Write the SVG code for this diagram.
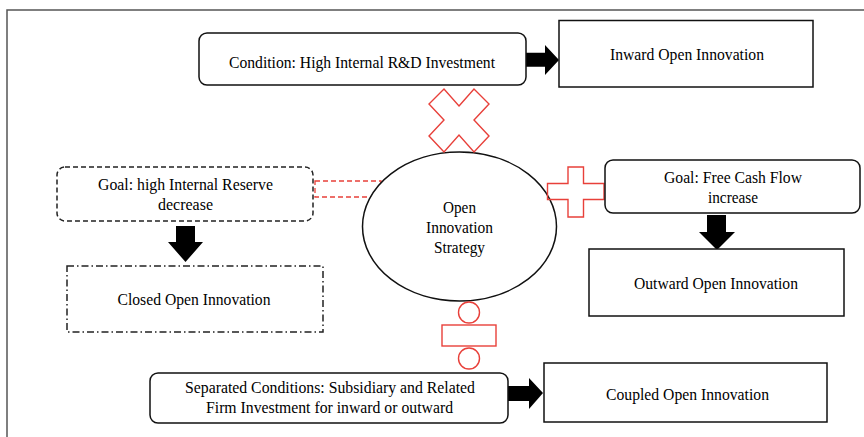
<svg xmlns="http://www.w3.org/2000/svg" width="864" height="437" viewBox="0 0 864 437">
<style>
.box{fill:#fff;stroke:#111;stroke-width:1.5}
.dash{fill:#fff;stroke:#222;stroke-width:1.5;stroke-dasharray:5 3}
.dashdot{fill:#fff;stroke:#222;stroke-width:1.5;stroke-dasharray:7 3 1.5 3}
.red{fill:#fff;stroke:#e8403a;stroke-width:1.4}
.reddash{fill:#fff;stroke:#e8403a;stroke-width:1.3;stroke-dasharray:5 3}
.arrow{fill:#000;stroke:none}
text{font-family:"Liberation Serif","Times New Roman",serif;font-size:17.5px;fill:#000;text-anchor:middle}
</style>
<rect x="0" y="0" width="864" height="437" fill="#fff"/>
<path d="M7,440 V10 H870" fill="none" stroke="#555" stroke-width="1.5"/>
<g id="connectors">
  <polygon class="arrow" points="526,52.7 545,52.7 545,45 559,60 545,75 545,66.7 526,66.7"/>
  <polygon class="arrow" points="508,386 529,386 529,378 543,393 529,409 529,401 508,401"/>
  <polygon class="arrow" points="176,226 195,226 195,242 203,242 185.5,262 168,242 176,242"/>
  <polygon class="arrow" points="707,215 726,215 726,232 735,232 717,250 699,232 707,232"/>
</g>
<g id="symbol-minus-link">
  <rect class="reddash" x="315" y="181" width="66" height="16"/>
</g>
<g id="node-strategy">
  <ellipse class="box" cx="459.5" cy="226.5" rx="97" ry="74.5"/>
  <text x="459.5" y="212.7" textLength="33" lengthAdjust="spacingAndGlyphs">Open</text>
  <text x="459.5" y="232.7" textLength="67" lengthAdjust="spacingAndGlyphs">Innovation</text>
  <text x="459.5" y="253.3" textLength="51" lengthAdjust="spacingAndGlyphs">Strategy</text>
</g>
<g id="symbol-times">
  <polygon class="red" points="459,106 474,89 489,104 474,120 489,136 474,152 459,135 444,152 429,136 444,120 429,104 444,89"/>
</g>
<g id="symbol-plus">
  <polygon points="568,167 583.5,167 583.5,183.5 604,183.5 604,199.5 583.5,199.5 583.5,217 568,217 568,199.5 547.5,199.5 547.5,183.5 568,183.5" fill="none" stroke="#e8403a" stroke-width="1.4"/>
</g>
<g id="symbol-equals">
  <circle class="red" cx="469" cy="312.5" r="10.5"/>
  <rect class="red" x="442" y="325" width="54" height="21"/>
  <circle class="red" cx="469" cy="358.5" r="10.5"/>
</g>
<g id="node-condition">
  <rect class="box" x="199" y="33" width="327" height="52" rx="8"/>
  <text x="362" y="68" textLength="266" lengthAdjust="spacingAndGlyphs">Condition: High Internal R&amp;D Investment</text>
</g>
<g id="node-inward">
  <rect class="box" x="559" y="20.5" width="254" height="66.5"/>
  <text x="687" y="60" textLength="154" lengthAdjust="spacingAndGlyphs">Inward Open Innovation</text>
</g>
<g id="node-goal-reserve">
  <rect class="dash" x="57" y="167" width="256" height="54" rx="8"/>
  <text x="185.5" y="190" textLength="175" lengthAdjust="spacingAndGlyphs">Goal: high Internal Reserve</text>
  <text x="185.5" y="210" textLength="55" lengthAdjust="spacingAndGlyphs">decrease</text>
</g>
<g id="node-closed">
  <rect class="dashdot" x="67" y="266" width="256" height="66"/>
  <text x="194" y="305" textLength="153" lengthAdjust="spacingAndGlyphs">Closed Open Innovation</text>
</g>
<g id="node-goal-cash">
  <rect class="box" x="605" y="160" width="255" height="53" rx="8"/>
  <text x="733" y="182.7" textLength="138" lengthAdjust="spacingAndGlyphs">Goal: Free Cash Flow</text>
  <text x="733" y="203" textLength="50" lengthAdjust="spacingAndGlyphs">increase</text>
</g>
<g id="node-outward">
  <rect class="box" x="589" y="249" width="255" height="67"/>
  <text x="716" y="289" textLength="164" lengthAdjust="spacingAndGlyphs">Outward Open Innovation</text>
</g>
<g id="node-separated">
  <rect class="box" x="150" y="373" width="358" height="50" rx="8"/>
  <text x="330" y="393" textLength="290" lengthAdjust="spacingAndGlyphs">Separated Conditions: Subsidiary and Related</text>
  <text x="329.5" y="413" textLength="247" lengthAdjust="spacingAndGlyphs">Firm Investment for inward or outward</text>
</g>
<g id="node-coupled">
  <rect class="box" x="544" y="363" width="283" height="59"/>
  <text x="687.5" y="400" textLength="163" lengthAdjust="spacingAndGlyphs">Coupled Open Innovation</text>
</g>
</svg>
